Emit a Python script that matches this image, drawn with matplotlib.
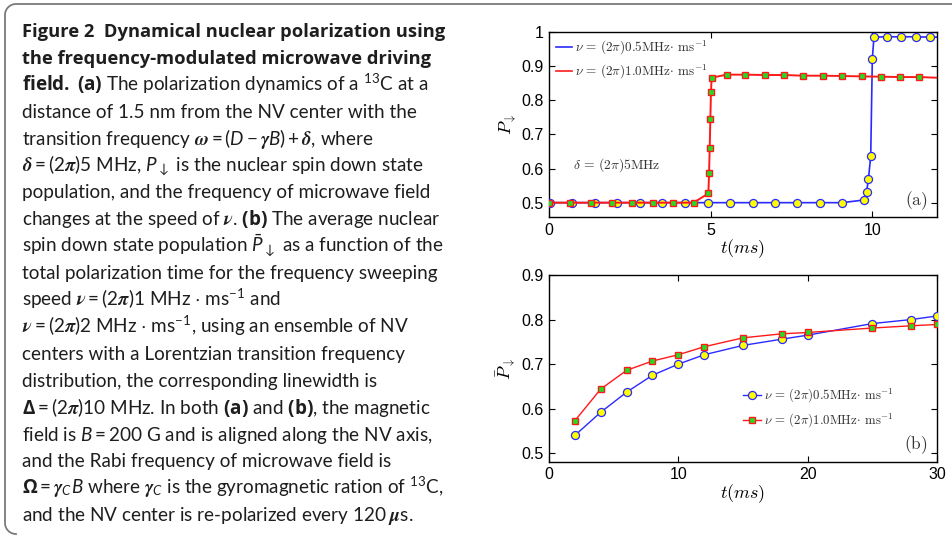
import matplotlib
matplotlib.use("Agg")
import matplotlib.pyplot as plt
import numpy as np
from matplotlib.lines import Line2D

# caption math: custom fontset (sans latin via \mathsf, Times-like greek)
plt.rcParams['mathtext.fontset'] = 'custom'
plt.rcParams['mathtext.rm'] = 'Lato'
plt.rcParams['mathtext.sf'] = 'Lato:italic'
plt.rcParams['mathtext.it'] = 'STIXGeneral:italic:bold'
plt.rcParams['mathtext.bf'] = 'Open Sans:bold'
plt.rcParams['mathtext.fallback'] = 'stix'

# ---- data (a): polarization dynamics ----
t_slow = [0.02, 0.72, 1.41, 2.11, 2.80, 3.50, 4.20, 4.91, 5.60, 6.30, 6.99, 7.67,
          8.37, 9.07, 9.75, 9.82, 9.88, 9.95, 10.00, 10.05, 10.46, 10.90, 11.34, 11.77]
p_slow = [0.500, 0.500, 0.500, 0.500, 0.500, 0.500, 0.500, 0.500, 0.500, 0.500, 0.500, 0.500,
          0.500, 0.500, 0.508, 0.530, 0.570, 0.636, 0.922, 0.985, 0.986, 0.986, 0.986, 0.985]
t_fast = [0.0, 0.66, 1.29, 1.94, 2.56, 3.21, 3.83, 4.47, 4.93, 4.95, 4.97, 4.99, 5.01, 5.03,
          5.49, 6.07, 6.67, 7.26, 7.86, 8.47, 9.07, 9.67, 10.27, 10.87, 11.45]
p_fast = [0.500, 0.500, 0.500, 0.500, 0.500, 0.500, 0.500, 0.500, 0.527, 0.586, 0.659, 0.744,
          0.825, 0.866, 0.875, 0.875, 0.874, 0.874, 0.872, 0.872, 0.871, 0.870, 0.869, 0.868, 0.868]
t_end = 12.0
p_slow_end = 0.985
p_fast_end = 0.866

# ---- data (b): average population vs total polarization time ----
T_tot = [2, 4, 6, 8, 10, 12, 15, 18, 20, 25, 28, 30]
pbar_slow = [0.540, 0.592, 0.637, 0.675, 0.700, 0.721, 0.742, 0.756, 0.765, 0.791, 0.800, 0.808]
pbar_fast = [0.573, 0.644, 0.686, 0.707, 0.721, 0.739, 0.759, 0.768, 0.771, 0.781, 0.786, 0.789]

lab_slow = r'$\nu\,=\,(2\pi)0.5\mathrm{MHz}\!\cdot\,\mathrm{ms}^{-1}$'
lab_fast = r'$\nu\,=\,(2\pi)1.0\mathrm{MHz}\!\cdot\,\mathrm{ms}^{-1}$'

BLUE = '#2a2aff'
RED = '#ff1a1a'
YEL = '#ffff00'
GRN = '#22dd22'

W, H = 952, 537
fig = plt.figure(figsize=(W / 100, H / 100), dpi=100)

# ---- caption frame (top line + left line with rounded corners) ----
r = 11
ang = np.linspace(np.pi / 2, np.pi, 20)
top_arc_x = 5 + r + r * np.cos(ang)
top_arc_y = 4 + r - r * np.sin(ang)
ang2 = np.linspace(np.pi, 1.5 * np.pi, 20)
bot_arc_x = 5 + r + r * np.cos(ang2)
bot_arc_y = 534 - r - r * np.sin(ang2)
fx = np.concatenate([[W], top_arc_x, bot_arc_x])
fy = np.concatenate([[4], top_arc_y, bot_arc_y])
fig.add_artist(Line2D(fx / W, 1 - fy / H, color='#7a7a7a', lw=1.3,
                      transform=fig.transFigure))

# ---- caption text ----
cap = [
    (r'Figure 2  Dynamical nuclear polarization using', 'bold'),
    (r'the frequency-modulated microwave driving', 'bold'),
    (r'$\mathbf{field.\ (a)}$ The polarization dynamics of a $^{13}$C at a', 'normal'),
    (r'distance of 1.5 nm from the NV center with the', 'normal'),
    (r'transition frequency $\omega = (\mathsf{D} - \gamma \mathsf{B}) + \delta$, where', 'normal'),
    (r'$\delta = (2\pi)$5 MHz, $\mathsf{P}_{\downarrow}$ is the nuclear spin down state', 'normal'),
    (r'population, and the frequency of microwave field', 'normal'),
    (r'changes at the speed of $\nu$. $\mathbf{(b)}$ The average nuclear', 'normal'),
    (r'spin down state population $\bar{\mathsf{P}}_{\downarrow}$ as a function of the', 'normal'),
    (r'total polarization time for the frequency sweeping', 'normal'),
    (r'speed $\nu = (2\pi)$1 MHz $\cdot$ ms$^{-1}$ and', 'normal'),
    (r'$\nu = (2\pi)$2 MHz $\cdot$ ms$^{-1}$, using an ensemble of NV', 'normal'),
    (r'centers with a Lorentzian transition frequency', 'normal'),
    (r'distribution, the corresponding linewidth is', 'normal'),
    (r'$\mathbf{\Delta} = (2\pi)$10 MHz. In both $\mathbf{(a)}$ and $\mathbf{(b)}$, the magnetic', 'normal'),
    (r'field is $\mathsf{B} = $200 G and is aligned along the NV axis,', 'normal'),
    (r'and the Rabi frequency of microwave field is', 'normal'),
    (r'$\mathbf{\Omega} = \gamma_{\mathsf{C}} \mathsf{B}$ where $\gamma_{\mathsf{C}}$ is the gyromagnetic ration of $^{13}$C,', 'normal'),
    (r'and the NV center is re-polarized every 120 $\mu$s.', 'normal'),
]
y0, dy = 37, 26.9
for i, (s, w) in enumerate(cap):
    if w == 'bold':
        fam, fs = 'Open Sans', 13.2
    else:
        fam, fs = 'Lato', 13.6
    fig.text(22 / W, 1 - (y0 + i * dy) / H, s, family=fam, fontsize=fs,
             fontweight=w, color='#1e1e1e', va='baseline', ha='left',
             math_fontfamily='custom')


def style_axes(ax):
    ax.tick_params(direction='in', top=True, right=True, length=4, width=0.8,
                   labelsize=11.5, pad=4)
    for lab in ax.get_xticklabels() + ax.get_yticklabels():
        lab.set_family('Liberation Sans')
    for sp in ax.spines.values():
        sp.set_linewidth(1.0)


# ---- panel (a) ----
ax1 = fig.add_axes([549 / W, 1 - 217 / H, 388 / W, 185 / H])
ax1.plot(t_slow + [t_end], p_slow + [p_slow_end], '-', color=BLUE, lw=1.2, zorder=2)
ax1.plot(t_slow, p_slow, 'o', ms=5.8, mfc=YEL, mec=BLUE, mew=0.9, zorder=3)
ax1.plot(t_fast + [t_end], p_fast + [p_fast_end], '-', color=RED, lw=1.4, zorder=4)
ax1.plot(t_fast, p_fast, 's', ms=4.8, mfc=GRN, mec=RED, mew=1.0, zorder=5)
ax1.set_xlim(0, 12)
ax1.set_ylim(0.458, 1.0)
ax1.set_xticks([0, 5, 10])
ax1.set_yticks([0.5, 0.6, 0.7, 0.8, 0.9, 1.0])
ax1.set_yticklabels(['0.5', '0.6', '0.7', '0.8', '0.9', '1'])
style_axes(ax1)
ax1.set_xlabel(r'$t(ms)$', fontsize=13, math_fontfamily='cm', labelpad=0)
ax1.set_ylabel(r'$P_{\downarrow}$', fontsize=13, math_fontfamily='cm', labelpad=2)
ax1.text(0.74, 0.61, r'$\delta\,=\,(2\pi)5\mathrm{MHz}$', fontsize=9.8,
         math_fontfamily='cm', va='center', ha='left', color='#333333')
ax1.text(0.975, 0.09, r'$\mathrm{(a)}$', transform=ax1.transAxes, fontsize=12.5,
         math_fontfamily='cm', ha='right', va='center', color='#333333')
h1 = [Line2D([], [], color=BLUE, lw=1.2), Line2D([], [], color=RED, lw=1.2)]
leg1 = ax1.legend(h1, [lab_slow, lab_fast], loc='upper left', frameon=False,
                  fontsize=9.5, handlelength=1.2, handletextpad=0.2,
                  labelspacing=0.45, borderaxespad=0.15,
                  bbox_to_anchor=(0.0, 1.0))
for tx in leg1.get_texts():
    tx.set_math_fontfamily('cm')
    tx.set_color('#333333')

# ---- panel (b) ----
ax2 = fig.add_axes([549 / W, 1 - 461.7 / H, 388 / W, 186.7 / H])
ax2.plot(T_tot, pbar_slow, '-o', color=BLUE, lw=1.0, ms=5.8, mfc=YEL, mec=BLUE,
         mew=0.9, label=lab_slow, zorder=3)
ax2.plot(T_tot, pbar_fast, '-s', color=RED, lw=1.0, ms=4.8, mfc=GRN, mec=RED,
         mew=1.0, label=lab_fast, zorder=4)
ax2.set_xlim(0, 30)
ax2.set_ylim(0.481, 0.9)
ax2.set_xticks([0, 10, 20, 30])
ax2.set_yticks([0.5, 0.6, 0.7, 0.8, 0.9])
style_axes(ax2)
ax2.set_xlabel(r'$t(ms)$', fontsize=13, math_fontfamily='cm', labelpad=0)
ax2.set_ylabel(r'$\bar{P}_{\downarrow}$', fontsize=13, math_fontfamily='cm', labelpad=2)
ax2.text(0.975, 0.09, r'$\mathrm{(b)}$', transform=ax2.transAxes, fontsize=12.5,
         math_fontfamily='cm', ha='right', va='center', color='#333333')
leg2 = ax2.legend(loc='center left', frameon=False, fontsize=9.3,
                  handlelength=1.4, handletextpad=0.2, labelspacing=0.5,
                  bbox_to_anchor=(0.47, 0.285))
for tx in leg2.get_texts():
    tx.set_math_fontfamily('cm')
    tx.set_color('#333333')

fig.savefig('out.png', dpi=100)
